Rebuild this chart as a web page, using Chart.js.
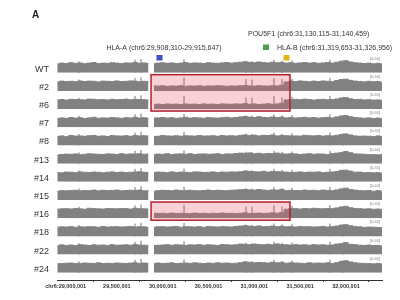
<!DOCTYPE html>
<html>
<head>
<meta charset="utf-8">
<script src="https://cdn.jsdelivr.net/npm/chart.js@4.4.0/dist/chart.umd.min.js"></script>
<style>
  html, body { margin:0; padding:0; background:#fff; }
  #wrap { width:400px; height:300px; }
</style>
</head>
<body>
<div id="wrap"><canvas id="chart" width="400" height="300"></canvas></div>
<script>
// samples, top to bottom
const samples = ["WT","#2","#6","#7","#8","#13","#14","#15","#16","#18","#22","#24"];

// bin positions on chr6 (Mb); null bin = no coverage gap
const binPos = [
  28.85,28.90,28.95,29.00,29.05,29.10,29.15,29.20,29.25,29.30,29.35,29.40,29.45,29.50,29.55,29.60,29.65,29.70,29.75,29.80,
  29.845,29.875,29.905,
  29.95,30.00,30.05,30.10,30.15,30.20,30.25,30.30,30.35,30.40,
  30.45,30.50,30.55,30.60,30.65,30.70,30.75,30.80,30.85,30.90,
  30.95,31.00,31.05,31.10,31.15,31.20,31.25,31.30,31.35,31.40,
  31.45,31.50,31.55,31.60,31.65,31.70,31.75,31.80,31.85,31.90,
  31.95,32.00,32.05,32.10,32.15,32.20,32.25,32.30,32.35,32.40
];

const covWT = [46,50,48,52,49,51,47,50,53,48,50,49,52,50,48,51,50,53,49,51,
  48,null,47,
  50,52,49,51,48,50,53,49,51,50, 48,52,50,49,51,53,50,52,55,57,
  54,52,56,53,51,55,52,54,50,52, 49,51,53,50,52,49,51,53,50,55,
  60,62,56,52,50,48,50,47,49,46];
const cov2 = [47,51,49,50,48,52,49,51,50,47,51,50,49,52,49,50,52,51,48,50,
  49,null,26,
  25,27,24,26,25,27,24,26,25,27, 24,26,25,27,26,24,26,25,27,28,
  26,25,27,26,25,27,26,30, 47,51,
  49,52,50,48,51,49,52,50,48,54, 59,61,55,51,49,47,50,48,49,45];
const cov6 = [48,50,47,51,50,49,48,52,51,49,50,48,51,49,50,52,49,51,50,49,
  47,null,25,
  26,24,27,25,26,24,27,25,26,24, 27,25,26,24,27,26,25,27,26,29,
  25,27,24,26,28,25,27,31, 48,50,
  51,49,52,50,47,50,51,49,50,53, 58,60,54,50,51,48,49,47,48,46];
const cov7 = [45,49,47,51,48,50,46,49,52,47,49,48,51,49,47,50,49,52,48,50,
  47,null,48,
  49,51,48,50,47,49,52,48,50,49, 47,51,49,48,50,52,49,51,54,56,
  53,51,55,52,50,54,51,53,49,51, 48,50,52,49,51,48,50,52,49,54,
  59,61,55,51,49,47,49,46,48,45];
const cov8 = [47,50,46,52,49,50,48,51,52,48,50,47,52,50,49,51,48,52,50,51,
  49,null,47,
  48,52,50,49,51,48,51,50,49,52, 49,50,51,48,52,50,51,49,53,55,
  52,54,50,53,52,55,50,52,51,50, 50,49,53,51,50,52,49,51,50,53,
  57,60,55,50,48,49,48,47,50,46];
const cov13 = [45,48,50,49,51,47,49,52,50,49,48,51,50,48,52,49,51,50,52,49,
  50,null,48,
  50,49,52,48,50,51,49,52,48,50, 51,49,50,52,48,51,50,53,55,54,
  56,52,54,51,53,52,55,51,50,52, 51,48,50,52,49,51,50,48,52,55,
  58,63,57,51,50,49,47,48,46,47];
const cov14 = [48,47,51,50,48,52,50,49,51,50,47,50,52,49,51,48,50,51,53,50,
  48,null,49,
  51,50,48,52,49,51,50,48,52,51, 49,50,52,49,51,50,52,51,53,56,
  55,53,52,55,51,54,53,52,51,49, 50,52,49,51,50,52,48,50,51,54,
  60,61,56,50,51,48,49,47,48,45];
const cov15 = [46,49,48,50,51,48,50,49,52,48,51,49,50,52,48,50,51,50,52,48,
  49,null,46,
  49,51,50,48,52,49,50,51,49,48, 50,52,49,51,50,49,51,52,54,55,
  53,52,55,52,50,53,52,55,49,51, 50,49,52,50,51,49,52,50,49,53,
  58,62,55,52,49,48,50,46,49,46];
const cov16 = [47,49,50,48,51,49,47,52,50,49,48,51,50,49,51,50,48,52,50,49,
  48,null,26,
  25,26,24,27,25,26,25,24,27,25, 26,24,26,25,27,25,26,24,26,28,
  25,26,27,25,26,28,26,30, 47,50,
  50,48,51,49,52,50,49,51,50,54, 59,62,55,51,50,48,49,47,48,46];
const cov18 = [48,50,49,51,48,50,49,51,50,48,52,49,50,51,49,50,52,49,51,50,
  47,null,48,
  50,51,49,50,52,48,51,50,49,51, 48,52,50,49,51,50,49,52,54,56,
  54,52,55,51,52,54,51,53,50,51, 49,52,50,51,49,50,52,49,51,54,
  59,61,56,51,50,47,49,48,47,46];
const cov22 = [46,51,48,50,47,52,50,48,51,49,50,48,52,49,50,51,49,53,50,49,
  48,null,47,
  49,50,52,49,51,50,48,51,50,52, 49,51,50,48,52,51,50,51,55,54,
  52,55,53,51,54,52,56,52,51,50, 52,50,51,49,52,50,51,49,50,55,
  57,62,54,52,49,48,50,47,48,45];
const cov24 = [47,48,50,51,49,48,51,50,49,52,48,50,49,51,50,48,51,52,49,51,
  49,null,48,
  51,49,50,52,48,50,51,49,52,50, 48,51,49,52,50,51,49,50,53,57,
  55,52,54,53,51,55,52,54,50,52, 51,50,49,52,50,51,50,52,49,53,
  60,63,57,52,50,49,48,47,49,46];
const coverage = [covWT,cov2,cov6,cov7,cov8,cov13,cov14,cov15,cov16,cov18,cov22,cov24];

// thin read pile-up spikes (Mb, height)
const spikeX = [29.087,29.698,29.764,30.233,30.909,30.974,31.214,31.302,31.411,31.825,31.967];
const spikeY = [58,66,70,68,60,58,66,60,62,66,62];

// x axis ticks
const tickPos = [29.0,29.5,30.0,30.5,31.0,31.5,32.0];
const tickLabels = ["chr6:29,000,001","29,500,001","30,000,001","30,500,001","31,000,001","31,500,001","32,000,001"];

// gene markers
const geneNames = ["HLA-A (chr6:29,908,310-29,915,647)","POU5F1 (chr6:31,130,115-31,140,459)","HLA-B (chr6:31,319,653-31,326,956)"];
const geneMark = [29.965, 31.127, 31.351];
const geneColors = ["#3f51c4","#4f9e4f","#e2b51e"];

// highlighted deletion (rows from/to, Mb)
const boxFrom = [1, 8];
const boxTo = [2, 8];
const boxStart = 29.873;
const boxEnd = 31.389;

Chart.defaults.font.family = '"Liberation Sans", Arial, sans-serif';

const scales = {
  x: {
    type: "linear", min: 28.847, max: 32.393, offset: false,
    afterBuildTicks: s => { s.ticks = tickPos.map(v => ({ value: v })); },
    afterFit: s => { s.height = 20; },
    ticks: { autoSkip: false, maxRotation: 0, padding: 1, color: "#333",
             font: { size: 5.5, weight: "bold" },
             // first label carries the chromosome prefix, keep the number over its tick
             callback: (v, i) => i === 0 ? tickLabels[i] + "       " : tickLabels[i] },
    grid: { drawOnChartArea: false, drawTicks: true, tickLength: 2, color: "#333" },
    border: { display: true, color: "#333", width: 1 }
  }
};
const hiddenAxis = {
  type: "linear", position: "left", stack: "rows", min: 0, max: 95,
  ticks: { display: false }, grid: { display: false }, border: { display: false },
  afterFit: s => { s.width = 0; }
};
samples.forEach((s, i) => {
  scales["y" + i] = Object.assign({}, hiddenAxis, { stackWeight: 1, weight: 20 - i });
});
scales.pad = Object.assign({}, hiddenAxis, { stackWeight: 0.396, weight: 0 });

const datasets = [];
samples.forEach((s, i) => {
  datasets.push({
    type: "line", label: s, yAxisID: "y" + i, order: 0,
    data: binPos.map((x, j) => ({ x: x, y: coverage[i][j] })),
    borderColor: "#818181", borderWidth: 1, backgroundColor: "#818181",
    fill: "origin", pointRadius: 0, stepped: "middle", spanGaps: false
  });
  datasets.push({
    type: "bar", label: s + " spikes", yAxisID: "y" + i, order: 1,
    data: spikeX.map((x, j) => ({ x: x, y: spikeY[j] })),
    backgroundColor: "#ababab", barThickness: 1, grouped: false
  });
});

const overlay = {
  id: "overlay",
  afterDatasetsDraw(chart) {
    const ctx = chart.ctx, xs = chart.scales.x;
    ctx.save();
    const x1 = xs.getPixelForValue(boxStart), x2 = xs.getPixelForValue(boxEnd);
    boxFrom.forEach((f, k) => {
      const top = chart.scales["y" + f].top + 2;
      const bot = chart.scales["y" + boxTo[k]].bottom + 2;
      ctx.fillStyle = "rgba(225,90,105,0.28)";
      ctx.fillRect(x1, top, x2 - x1, bot - top);
      ctx.strokeStyle = "#b3202f";
      ctx.lineWidth = 1.5;
      ctx.strokeRect(x1, top, x2 - x1, bot - top);
    });
    ctx.restore();
  },
  afterDraw(chart) {
    const ctx = chart.ctx, xs = chart.scales.x;
    ctx.save();
    ctx.fillStyle = "#222";
    ctx.font = 'bold 10px "Liberation Sans", Arial';
    ctx.textAlign = "left"; ctx.textBaseline = "middle";
    ctx.fillText("A", 32, 15);

    // row labels + track range
    samples.forEach((s, i) => {
      const sc = chart.scales["y" + i];
      ctx.fillStyle = "#333";
      ctx.font = '9px "Liberation Sans", Arial';
      ctx.textAlign = "right";
      ctx.fillText(s, 49, sc.bottom - 3.5);
      ctx.fillStyle = "#888";
      ctx.font = '4px "Liberation Sans", Arial';
      ctx.fillText("[0-60]", xs.right - 2, sc.top + 4);
    });

    // gene markers and names
    const markY = [57.5, 47, 57.5];
    geneMark.forEach((g, k) => {
      const px = xs.getPixelForValue(g);
      ctx.fillStyle = geneColors[k];
      ctx.fillRect(px - 3, markY[k] - 2.5, 6, 5.5);
    });
    ctx.fillStyle = "#333";
    ctx.font = '7px "Liberation Sans", Arial';
    ctx.textAlign = "center";
    ctx.fillText(geneNames[0], 164, 48);
    ctx.textAlign = "left";
    ctx.fillText(geneNames[1], 248, 34.5);
    ctx.fillText(geneNames[2], 277, 48);
    ctx.restore();
  }
};

new Chart(document.getElementById("chart").getContext("2d"), {
  type: "line",
  data: { datasets: datasets },
  options: {
    responsive: false, animation: false, devicePixelRatio: 1,
    layout: { padding: { left: 57, right: 18, top: 54.5, bottom: 0 } },
    plugins: { legend: { display: false }, tooltip: { enabled: false } },
    scales: scales
  },
  plugins: [overlay]
});
</script>
</body>
</html>
